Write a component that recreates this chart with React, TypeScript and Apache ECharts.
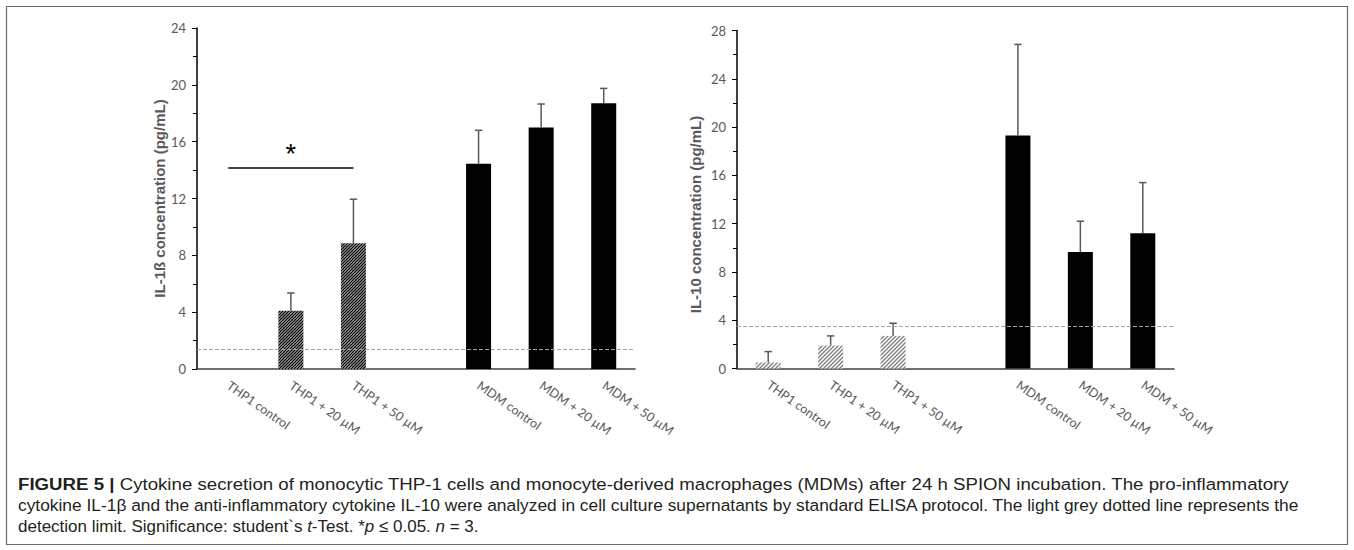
import React, { useEffect, useRef } from 'react';
import * as echarts from 'echarts';

const categories = ['THP1 control', 'THP1 + 20 µM', 'THP1 + 50 µM', '', 'MDM control', 'MDM + 20 µM', 'MDM + 50 µM'];
const hatchedGroup = [true, true, true, false, false, false, false];

const il1bMean = [null, 4.1, 8.85, null, 14.45, 17.0, 18.7];
const il1bUpper = [null, 5.35, 11.95, null, 16.8, 18.65, 19.75];
const il1bDetectionLimit = 1.4;
const il1bMax = 24;

const il10Mean = [0.5, 1.9, 2.7, null, 19.3, 9.65, 11.2];
const il10Upper = [1.4, 2.7, 3.75, null, 26.85, 12.2, 15.4];
const il10DetectionLimit = 3.5;
const il10Max = 28;

const tickInterval = 4;
const significance = { from: 0, to: 2, value: 14.15, mark: '*' };

const il1bTitle = 'IL-1ß concentration (pg/mL)';
const il10Title = 'IL-10 concentration (pg/mL)';

const captionLines = [
  '{b|FIGURE 5 |} Cytokine secretion of monocytic THP-1 cells and monocyte-derived macrophages (MDMs) after 24 h SPION incubation. The pro-inflammatory',
  'cytokine IL-1β and the anti-inflammatory cytokine IL-10 were analyzed in cell culture supernatants by standard ELISA protocol. The light grey dotted line represents the',
  'detection limit. Significance: student`s {i|t}-Test. *{i|p} ≤ 0.05. {i|n} = 3.',
];
// justified target widths (px) for the caption lines; 0 = natural width
const captionTargets = [1272, 1283, 0];
const captionFont = 'Liberation Sans';
const captionSize = 17;

function measureLine(line: string, size: number, family: string) {
  const ctx = document.createElement('canvas').getContext('2d')!;
  const re = /\{(b|i)\|([^}]*)\}/g;
  let last = 0;
  let w = 0;
  let m: RegExpExecArray | null;
  const seg = (t: string, st: string) => {
    ctx.font = `${st} ${size}px "${family}"`;
    w += ctx.measureText(t).width;
  };
  while ((m = re.exec(line))) {
    seg(line.slice(last, m.index), 'normal');
    seg(m[2], m[1] === 'b' ? 'bold' : 'italic');
    last = re.lastIndex;
  }
  seg(line.slice(last), 'normal');
  return w;
}

function makeHatch(color: string, lw: number, size: number) {
  const c = document.createElement('canvas');
  c.width = size;
  c.height = size;
  const ctx = c.getContext('2d')!;
  ctx.fillStyle = '#ffffff';
  ctx.fillRect(0, 0, size, size);
  ctx.strokeStyle = color;
  ctx.lineWidth = lw;
  ctx.beginPath();
  ctx.moveTo(-1, size + 1);
  ctx.lineTo(size + 1, -1);
  ctx.moveTo(-1, 1);
  ctx.lineTo(1, -1);
  ctx.moveTo(size - 1, size + 1);
  ctx.lineTo(size + 1, size - 1);
  ctx.stroke();
  return { image: c, repeat: 'repeat' } as any;
}

const tickFont = 'Lato';
const labelGrey = '#595959';

export default function App() {
  const ref = useRef<HTMLDivElement>(null);
  useEffect(() => {
    if (!ref.current) return;
    const chart = echarts.init(ref.current, undefined, { renderer: 'svg' });
    const darkHatch = makeHatch('#000000', 1.5, 3);
    const greyHatch = makeHatch('#7f7f7f', 1.3, 4);

    const barData = (mean: (number | null)[], hatch: any) =>
      mean.map((v, i) =>
        v == null ? '-' : { value: v, itemStyle: { color: hatchedGroup[i] ? hatch : '#000000' } }
      );
    const errData = (mean: (number | null)[], upper: (number | null)[]) =>
      upper
        .map((u, i) => (u == null || mean[i] == null ? null : [i, mean[i], u]))
        .filter((d) => d != null);

    const renderErr = (params: any, api: any) => {
      const x = api.value(0);
      const lo = api.coord([x, api.value(1)]);
      const hi = api.coord([x, api.value(2)]);
      const st = { stroke: '#595959', lineWidth: 1.5 };
      return {
        type: 'group',
        children: [
          { type: 'line', shape: { x1: lo[0], y1: lo[1], x2: hi[0], y2: hi[1] }, style: st },
          { type: 'line', shape: { x1: hi[0] - 3.7, y1: hi[1], x2: hi[0] + 3.7, y2: hi[1] }, style: st },
        ],
      };
    };

    const xAxisBase = (gi: number) => ({
      type: 'category',
      gridIndex: gi,
      data: categories,
      boundaryGap: true,
      axisLine: { lineStyle: { color: '#404040', width: 1.5 } },
      axisTick: { show: false },
      axisLabel: {
        interval: 0,
        rotate: -35,
        margin: 15,
        color: labelGrey,
        fontFamily: tickFont,
        fontSize: 12.5,
      },
      splitLine: { show: false },
    });
    const yAxisBase = (gi: number, max: number, name: string, gap: number, pad: number[]) => ({
      type: 'value',
      gridIndex: gi,
      min: 0,
      max,
      interval: tickInterval,
      name,
      nameLocation: 'middle',
      nameGap: gap,
      nameTextStyle: {
        fontFamily: 'Liberation Sans',
        fontWeight: 'bold',
        fontSize: 15,
        color: labelGrey,
        padding: pad,
      },
      axisLine: { show: true, lineStyle: { color: '#000000', width: 1.5 } },
      axisTick: { show: true, length: 5, lineStyle: { color: '#000000', width: 1 } },
      minorTick: { show: true, splitNumber: 2, length: 4, lineStyle: { color: '#000000', width: 1 } },
      axisLabel: { color: labelGrey, fontFamily: tickFont, fontSize: 13, margin: 11 },
      splitLine: { show: false },
      minorSplitLine: { show: false },
    });

    const dashed = (v: number) => ({
      yAxis: v,
      lineStyle: { type: [4, 2], color: '#a6a6a6', width: 1 },
      label: { show: false },
    });

    const captionGraphics = captionLines.map((t, i) => {
      const natural = measureLine(t, captionSize, captionFont);
      const sx = captionTargets[i] > 0 ? captionTargets[i] / natural : 1;
      return {
        type: 'text',
        x: 18,
        y: 484 + i * 21,
        scaleX: sx,
        silent: true,
        style: {
          text: t,
          fontFamily: captionFont,
          fontSize: captionSize,
          fill: '#231f20',
          verticalAlign: 'middle',
          align: 'left',
          rich: {
            b: { fontFamily: captionFont, fontSize: captionSize, fontWeight: 'bold', fill: '#231f20' },
            i: { fontFamily: captionFont, fontSize: captionSize, fontStyle: 'italic', fill: '#231f20' },
          },
        },
      };
    });

    const option: any = {
      animation: false,
      backgroundColor: '#ffffff',
      grid: [
        { left: 197, top: 28, width: 438, height: 341, outerBoundsMode: 'none' },
        { left: 737, top: 30.5, width: 437, height: 338, outerBoundsMode: 'none' },
      ],
      xAxis: [xAxisBase(0), xAxisBase(1)],
      yAxis: [
        yAxisBase(0, il1bMax, il1bTitle, 30, [0, 0, 0, 0]),
        yAxisBase(1, il10Max, il10Title, 34, [0, 30, 0, 0]),
      ],
      series: [
        {
          type: 'bar',
          xAxisIndex: 0,
          yAxisIndex: 0,
          barWidth: 25,
          data: barData(il1bMean, darkHatch),
          markLine: {
            silent: true,
            symbol: ['none', 'none'],
            data: [
              dashed(il1bDetectionLimit),
              [
                {
                  coord: [categories[significance.from], significance.value],
                  lineStyle: { type: 'solid', color: '#000000', width: 1.5 },
                  label: {
                    show: true,
                    position: 'middle',
                    formatter: significance.mark,
                    fontSize: 27,
                    fontFamily: 'Liberation Sans',
                    color: '#000000',
                    distance: 0,
                  },
                },
                { coord: [categories[significance.to], significance.value] },
              ],
            ],
          },
        },
        {
          type: 'custom',
          xAxisIndex: 0,
          yAxisIndex: 0,
          data: errData(il1bMean, il1bUpper),
          renderItem: renderErr,
          z: 3,
        },
        {
          type: 'bar',
          xAxisIndex: 1,
          yAxisIndex: 1,
          barWidth: 25,
          data: barData(il10Mean, greyHatch),
          markLine: {
            silent: true,
            symbol: ['none', 'none'],
            data: [dashed(il10DetectionLimit)],
          },
        },
        {
          type: 'custom',
          xAxisIndex: 1,
          yAxisIndex: 1,
          data: errData(il10Mean, il10Upper),
          renderItem: renderErr,
          z: 3,
        },
      ],
      graphic: [
        {
          type: 'rect',
          shape: { x: 6.5, y: 6.5, width: 1341, height: 538 },
          style: { fill: 'none', stroke: '#6b6b6b', lineWidth: 1.2 },
          silent: true,
        },
        ...captionGraphics,
      ],
    };
    chart.setOption(option);
    return () => chart.dispose();
  }, []);
  return <div ref={ref} style={{ position: 'absolute', left: 0, top: 0, width: 1354, height: 550 }} />;
}
